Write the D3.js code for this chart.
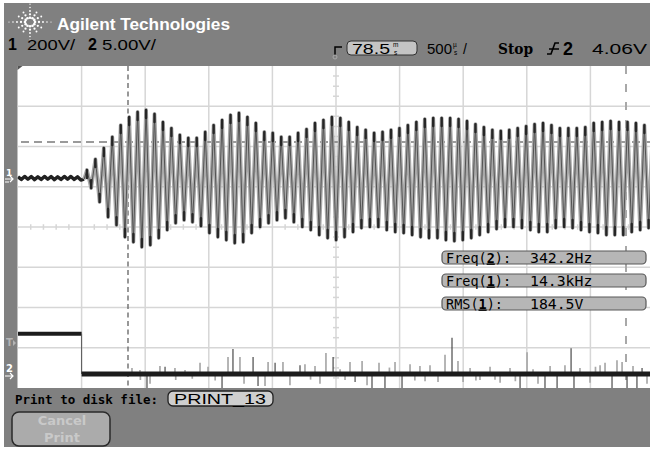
<!DOCTYPE html>
<html><head><meta charset="utf-8">
<script src="https://cdn.jsdelivr.net/npm/d3@7"></script>
<style>html,body{margin:0;padding:0;background:#fff;}svg{display:block;}</style>
</head><body>
<svg id="scope" width="650" height="450"></svg>
<script>
// ---- acquisition settings ----
const timeRangeUs = [-500, 4500];          // 500 µs/div, 10 divisions
const ch1VoltsPerDiv = 200, ch1OffsetDiv = 1.217;
const ch2VoltsPerDiv = 5,   ch2OffsetDiv = -3.652;

// ch1: low-level ripple before the burst (V), one sample every 26 µs from -500 µs
const ch1RippleStartUs = -500, ch1RippleStepUs = 26;
const ch1Ripple = [6,-7,8,-6,7,-8,6,-7,8,-6,7,-8,6,-7,8,-6,8,-7,6,-10,-6];

// ch1 burst: successive positive peaks and negative troughs (V), half a period apart
const ch1BurstStartUs = 42, ch1HalfPeriodUs = 33.2;
const ch1Peaks = [40,94,149,204,263,303,328,338,318,278,248,214,199,199,229,263,288,313,323,303,
  273,229,224,204,204,224,243,273,288,303,298,278,253,239,224,229,239,248,263,278,
  293,298,298,298,293,283,268,253,239,234,239,248,258,268,273,263,248,248,248,253,
  273,278,283,278,278,273,263,258];
const ch1Troughs = [-50,-119,-194,-234,-293,-318,-343,-333,-298,-258,-224,-209,-219,-239,-273,-293,-308,-323,-318,-273,
  -243,-224,-209,-199,-219,-243,-258,-283,-298,-308,-293,-268,-248,-243,-243,-258,-268,-273,-283,-293,
  -298,-298,-308,-313,-308,-298,-283,-268,-253,-243,-243,-248,-258,-268,-268,-248,-243,-248,-258,-268,
  -273,-283,-283,-283,-268,-258,-248];

// ch2: logic level (V) and the glitches riding on the low level
const ch2Times  = [-500, 0, 0, 4500];
const ch2Levels = [5.0, 5.0, 0, 0];
// [time µs, glitch height V, 1 = bright sample]
const ch2Spikes = [
  [396,0.75,0],[459,0.5,0],[462,-0.75,0],[514,-1.8,1],[538,-1.2,0],[616,1.0,0],[656,0.9,1],[734,0.75,0],
  [740,-0.75,0],[813,0.5,0],[870,-0.6,0],[931,1.4,0],[994,0.9,0],[1050,-0.8,0],[1104,-1.8,1],[1151,2.1,0],
  [1190,3.1,1],[1245,2.1,0],[1277,-1.2,0],[1348,2.1,1],[1387,-1.5,1],[1442,-1.5,0],[1466,1.5,0],
  [1521,1.4,1],[1583,1.5,0],[1638,-1.4,0],[1717,1.1,1],[1756,1.2,0],[1800,-0.7,0],[1835,1.0,0],
  [1874,-1.2,0],[1921,2.6,0],[1977,2.1,1],[2032,0.6,0],[2071,-0.75,0],[2110,1.5,0],[2150,-1.0,1],
  [2205,1.6,0],[2244,-1.4,0],[2283,-1.8,1],[2338,1.4,0],[2385,-1.8,1],[2420,0.8,0],[2464,1.5,0],
  [2519,-1.8,1],[2582,1.2,0],[2620,-0.8,0],[2660,1.0,0],[2700,-0.9,0],[2739,1.1,0],[2802,-1.0,0],
  [2857,2.4,0],[2912,4.5,1],[2959,1.6,0],[2999,-1.0,0],[3054,0.75,0],[3100,-0.8,0],[3132,-0.75,0],
  [3211,0.9,0],[3250,-0.7,0],[3290,-1.1,0],[3368,0.75,0],[3410,-0.9,0],[3447,-1.8,1],[3502,2.7,0],
  [3549,0.6,0],[3588,-1.2,0],[3643,-1.8,1],[3683,1.0,0],[3738,-1.8,1],[3800,1.1,0],[3848,3.2,1],
  [3871,-1.8,1],[3918,0.75,0],[3997,-1.1,0],[4040,0.9,0],[4076,1.1,0],[4115,1.4,0],[4170,-1.8,1],
  [4209,1.7,0],[4249,1.5,0],[4288,-1.8,1],[4335,1.0,0],[4366,-1.8,1],[4406,0.75,1],[4445,-1.2,0]
];

// measurement readouts
const measLabels = [["Freq(", "2", "):"], ["Freq(", "1", "):"], ["RMS(", "1", "):"]];
const measValues = ["342.2Hz", "14.3kHz", "184.5V"];

// ---- layout ----
const svg = d3.select("#scope");
const plot = {left: 17.5, top: 66, right: 650, bottom: 388};
const divW = 63.6;

const x = d3.scaleLinear().domain(timeRangeUs).range([18, 18 + 10 * divW]);
const y1 = d3.scaleLinear()
  .domain([(-4 - ch1OffsetDiv) * ch1VoltsPerDiv, (4 - ch1OffsetDiv) * ch1VoltsPerDiv])
  .range([plot.bottom, plot.top]);
const y2 = d3.scaleLinear()
  .domain([(-4 - ch2OffsetDiv) * ch2VoltsPerDiv, (4 - ch2OffsetDiv) * ch2VoltsPerDiv])
  .range([plot.bottom, plot.top]);
const gx = d3.scaleLinear().domain([0, 10]).range([18, 18 + 10 * divW]);
const gy = d3.scaleLinear().domain([-4, 4]).range([plot.bottom, plot.top]);

// instrument frame
svg.append("rect").attr("x", 4).attr("y", 3).attr("width", 646).attr("height", 444).attr("fill", "#808080");

const defs = svg.append("defs");
defs.append("clipPath").attr("id", "screen").append("rect")
  .attr("x", plot.left).attr("y", plot.top)
  .attr("width", plot.right - plot.left).attr("height", plot.bottom - plot.top);

// ---- header ----
const logo = svg.append("g").attr("fill", "#fff");
d3.range(0, 360, 30).forEach(a => {
  const r = a * Math.PI / 180;
  const reach = (a % 90 === 0) ? [5, 9, 13, 17, 21] : [5, 9, 13];
  reach.forEach((d, i) => {
    logo.append("circle")
      .attr("cx", 30 + Math.cos(r) * d).attr("cy", 22 + Math.sin(r) * d * 0.85)
      .attr("r", Math.max(0.6, 1.3 - i * 0.17));
  });
});
svg.append("text").attr("x", 57).attr("y", 30).text("Agilent Technologies")
  .attr("font-family", "Liberation Sans, Arial, sans-serif").attr("font-weight", "bold")
  .attr("font-size", 17).attr("fill", "#fff").attr("textLength", 173).attr("lengthAdjust", "spacingAndGlyphs");

// time-reference marker and delay box (drawn before the readout text)
svg.append("path").attr("d", "M335,55 L335,47 L342,47").attr("fill", "none").attr("stroke", "#000").attr("stroke-width", 1.5);
svg.append("circle").attr("cx", 335).attr("cy", 57).attr("r", 2).attr("fill", "none").attr("stroke", "#aaa");
svg.append("rect").attr("x", 347).attr("y", 41).attr("width", 70).attr("height", 14).attr("rx", 4)
  .attr("fill", "#c4c4c4").attr("stroke", "#303030").attr("stroke-width", 1);
svg.append("path").attr("d", "M547,54 L551,54 L555,43 L559,43 M549,49 L559,49")
  .attr("fill", "none").attr("stroke", "#000").attr("stroke-width", 1.6);

const hdr = svg.append("g").attr("font-family", "Liberation Sans, Arial, sans-serif").attr("fill", "#000");
function htext(t, xx, yy, size, bold, len) {
  const el = hdr.append("text").attr("x", xx).attr("y", yy).text(t).attr("font-size", size)
    .attr("font-weight", bold ? "bold" : "normal");
  if (len) el.attr("textLength", len).attr("lengthAdjust", "spacingAndGlyphs");
  return el;
}
// small stacked unit glyphs (e.g. m over s)
function stacked(xx, yy, top, bottom) {
  htext(top, xx, yy - 7.5, 6.5, false);
  htext(bottom, xx + 1, yy + 0.5, 6.5, false);
}
htext("1", 8, 50, 16, true);
htext("200V/", 27, 50, 14, false, 48);
htext("2", 88, 50, 16, true);
htext("5.00V/", 102, 50, 14, false, 54);
htext("78.5", 352, 54, 14, false, 38);
stacked(393, 54, "m", "s");
htext("500", 427, 54, 14, false, 25);
stacked(453, 54, "µ", "s");
htext("/", 463, 54, 14, false);
htext("Stop", 498, 54, 14, true, 35).attr("font-family", "DejaVu Serif, serif");
htext("2", 563, 55, 18, true);
htext("4.06V", 592, 54, 14, false, 55);

// ---- graticule ----
svg.append("rect").attr("x", plot.left).attr("y", plot.top)
  .attr("width", plot.right - plot.left).attr("height", plot.bottom - plot.top).attr("fill", "#fff");
const grid = svg.append("g").attr("clip-path", "url(#screen)").attr("stroke", "#d6d6d6").attr("stroke-width", 1.5);
grid.selectAll("line.v").data(d3.range(1, 10)).join("line")
  .attr("x1", d => gx(d)).attr("x2", d => gx(d)).attr("y1", plot.top).attr("y2", plot.bottom);
grid.selectAll("line.h").data(d3.range(-3, 4)).join("line")
  .attr("y1", d => gy(d)).attr("y2", d => gy(d)).attr("x1", plot.left).attr("x2", plot.right);
grid.selectAll("line.tx").data(d3.range(0, 10, 0.2).filter(d => Math.abs(d - Math.round(d)) > 0.01)).join("line")
  .attr("x1", d => gx(d)).attr("x2", d => gx(d)).attr("y1", gy(0) - 2.7).attr("y2", gy(0) + 2.7);
grid.selectAll("line.ty").data(d3.range(-4, 4, 0.25).filter(d => Math.abs(d - Math.round(d)) > 0.01)).join("line")
  .attr("y1", d => gy(d)).attr("y2", d => gy(d)).attr("x1", gx(5) - 3).attr("x2", gx(5) + 3);
svg.append("path").attr("d", `M${plot.left},${plot.top} l5,0 l-5,4 z`).attr("fill", "#555");

// cursors
const cur = svg.append("g").attr("clip-path", "url(#screen)").attr("fill", "none");
cur.append("line").attr("x1", 128).attr("x2", 128).attr("y1", plot.top).attr("y2", plot.bottom)
  .attr("stroke", "#6c6c6c").attr("stroke-width", 1.4).attr("stroke-dasharray", "5,3.5");
cur.append("line").attr("x1", 626).attr("x2", 626).attr("y1", plot.top).attr("y2", plot.bottom)
  .attr("stroke", "#a8a8a8").attr("stroke-width", 2).attr("stroke-dasharray", "8,10");
cur.append("line").attr("x1", 21).attr("x2", plot.right).attr("y1", 142).attr("y2", 142)
  .attr("stroke", "#7a7a7a").attr("stroke-width", 1.6).attr("stroke-dasharray", "8,5");

// ---- channel 2 ----
const c2 = svg.append("g").attr("clip-path", "url(#screen)");
c2.selectAll("line.sp").data(ch2Spikes).join("line")
  .attr("x1", d => x(d[0])).attr("x2", d => x(d[0]))
  .attr("y1", y2(0)).attr("y2", d => y2(d[1]))
  .attr("stroke", d => d[2] ? "#3a3a3a" : "#a9a9a9")
  .attr("stroke-width", d => d[2] ? 1.1 : 1.7);
const ch2Pts = ch2Times.map((t, i) => [t, ch2Levels[i]]);
const line2 = d3.line().x(d => x(d[0])).y(d => y2(d[1]));
c2.append("path").datum(ch2Pts.slice(0, 2)).attr("d", line2)
  .attr("fill", "none").attr("stroke", "#1c1c1c").attr("stroke-width", 4);
c2.append("path").datum(ch2Pts.slice(1, 3)).attr("d", line2)
  .attr("fill", "none").attr("stroke", "#555").attr("stroke-width", 1);
c2.append("path").datum(ch2Pts.slice(2)).attr("d", line2)
  .attr("fill", "none").attr("stroke", "#1c1c1c").attr("stroke-width", 5);

// ---- channel 1 ----
const ripplePts = ch1Ripple.map((v, i) => [ch1RippleStartUs + i * ch1RippleStepUs, v]);
const burstPts = [];
ch1Peaks.forEach((v, k) => {
  burstPts.push([ch1BurstStartUs + 2 * k * ch1HalfPeriodUs, v]);
  if (k < ch1Troughs.length) burstPts.push([ch1BurstStartUs + (2 * k + 1) * ch1HalfPeriodUs, ch1Troughs[k]]);
});
const line1 = d3.line().x(d => x(d[0])).y(d => y1(d[1]));
const c1 = svg.append("g").attr("clip-path", "url(#screen)").attr("fill", "none");
c1.append("path").datum(ripplePts).attr("d", line1).attr("stroke", "#222").attr("stroke-width", 3.4)
  .attr("stroke-linejoin", "round");
const burstLine = [ripplePts[ripplePts.length - 1]].concat(burstPts);
c1.append("path").datum(burstLine).attr("d", line1)
  .attr("stroke", "#a8a8a8").attr("stroke-width", 3.8).attr("stroke-linejoin", "round");
c1.append("path").datum(burstLine).attr("d", line1)
  .attr("stroke", "#4a4a4a").attr("stroke-width", 0.9);
c1.selectAll("line.tip").data(burstPts).join("line")
  .attr("x1", d => x(d[0])).attr("x2", d => x(d[0]))
  .attr("y1", d => y1(d[1])).attr("y2", d => y1(d[1]) + (d[1] > 0 ? 8 : -8))
  .attr("stroke", "#262626").attr("stroke-width", 2.4).attr("stroke-linecap", "round");

// ---- channel markers on the left edge ----
const mk = svg.append("g").attr("font-family", "DejaVu Sans, sans-serif").attr("font-weight", "bold");
mk.append("text").attr("x", 6).attr("y", 176).attr("font-size", 9).attr("fill", "#fff").text("1");
mk.append("path").attr("d", `M5,${y1(0) + 1} h8 M10,${y1(0) - 2} l3,3 l-3,3 M5,${y1(0) + 4} h4`)
  .attr("stroke", "#fff").attr("stroke-width", 1.2).attr("fill", "none");
mk.append("text").attr("x", 6).attr("y", 346).attr("font-size", 10).attr("fill", "#b4b4b4").text("T");
mk.append("path").attr("d", "M13,340 l3,3 l-3,3 z").attr("fill", "#b4b4b4");
mk.append("text").attr("x", 6).attr("y", 372).attr("font-size", 10).attr("fill", "#fff").text("2");
mk.append("path").attr("d", `M5,${y2(0) + 2} h8 M10,${y2(0) - 1} l3,3 l-3,3`)
  .attr("stroke", "#fff").attr("stroke-width", 1.2).attr("fill", "none");

// ---- measurement readouts ----
const meas = svg.append("g").attr("font-family", "DejaVu Sans Mono, monospace").attr("font-size", 13.5);
measLabels.forEach((lab, i) => {
  const top = 251 + i * 23;
  meas.append("rect").attr("x", 442).attr("y", top).attr("width", 204).attr("height", 13).attr("rx", 4)
    .attr("fill", "#b6b6b6").attr("stroke", "#585858").attr("stroke-width", 1.2);
  const t = meas.append("text").attr("x", 446).attr("y", top + 11.5).attr("fill", "#000");
  t.append("tspan").text(lab[0]);
  t.append("tspan").text(lab[1]).attr("font-weight", "bold").attr("text-decoration", "underline");
  t.append("tspan").text(lab[2]);
  meas.append("text").attr("x", 530).attr("y", top + 11.5).attr("fill", "#000").text(measValues[i])
    .attr("textLength", measValues[i].length * 8.9).attr("lengthAdjust", "spacingAndGlyphs");
});

// ---- print status bar ----
svg.append("text").attr("x", 15).attr("y", 404).text("Print to disk file:")
  .attr("font-family", "DejaVu Sans Mono, monospace").attr("font-weight", "bold").attr("font-size", 13)
  .attr("textLength", 143).attr("lengthAdjust", "spacingAndGlyphs").attr("fill", "#000");
svg.append("rect").attr("x", 168).attr("y", 391).attr("width", 105).attr("height", 15).attr("rx", 5)
  .attr("fill", "#cfcfcf").attr("stroke", "#202020").attr("stroke-width", 1.3);
svg.append("text").attr("x", 174).attr("y", 404).text("PRINT_13")
  .attr("font-family", "Liberation Sans, Arial, sans-serif").attr("font-size", 14)
  .attr("textLength", 92).attr("lengthAdjust", "spacingAndGlyphs").attr("fill", "#000");
svg.append("rect").attr("x", 12).attr("y", 412).attr("width", 98).attr("height", 34).attr("rx", 7)
  .attr("fill", "#ababab").attr("stroke", "#2a2a2a").attr("stroke-width", 1.5);
const cp = svg.append("g").attr("font-family", "DejaVu Sans, sans-serif").attr("font-weight", "bold")
  .attr("font-size", 13).attr("fill", "#c9c9c9").attr("text-anchor", "middle");
cp.append("text").attr("x", 62).attr("y", 425).text("Cancel");
cp.append("text").attr("x", 62).attr("y", 442).text("Print");
</script>
</body></html>
